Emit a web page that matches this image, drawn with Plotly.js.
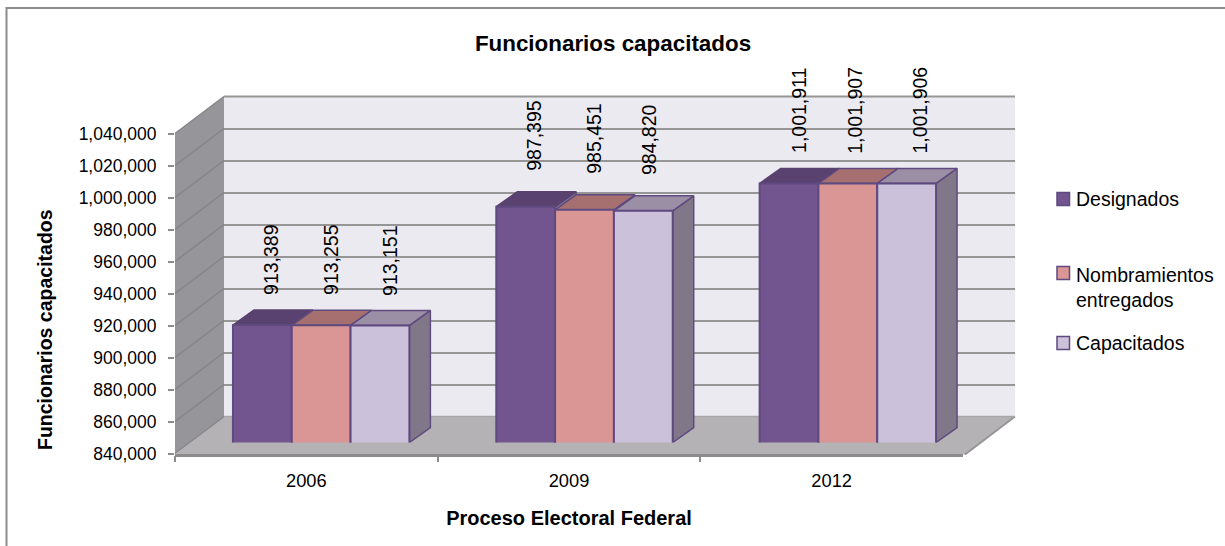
<!DOCTYPE html>
<html><head><meta charset="utf-8">
<script src="https://cdn.plot.ly/plotly-3.0.1.min.js"></script>
<style>html,body{margin:0;padding:0;background:#fff}</style>
</head><body><div id="chart" style="width:1225px;height:546px"></div>
<script>
const categories = ['2006','2009','2012'];
const seriesNames = ['Designados','Nombramientos<br>entregados','Capacitados'];
const designados = [913389,987395,1001911];
const nombramientos = [913255,985451,1001907];
const capacitados = [913151,984820,1001906];
const yTicks = [840000,860000,880000,900000,920000,940000,960000,980000,1000000,1020000,1040000];
const frontColors = ['#72558F','#D99694','#CCC1DA'];
const topColors = ['#5A4270','#A5706F','#9B8FA6'];
const sideColor = '#807888';
const edge = '#5F4A80';

const W=1225,H=546;
const F={x0:175,x1:963,y0:453.5,y1:133.5};      // front plane
const wallOff={x:49,y:-37};                     // back wall relative to the front plane
const barOff={x:14.5,y:-11};                    // bar plane relative to the front plane
const barStretch=2;
const depth={x:21,y:-15};                       // bar depth
const labelLift=[28,33.5,28];                   // label gap above the bar, per category
const labelNudge=[[8,10,10],[7.5,9.5,5],[10,7,13]];
const yMin=yTicks[0], yMax=yTicks[yTicks.length-1];
const xRange=[-0.5,2.5], yRange=[yMin,yMax];
function xDom(o,s){return [(F.x0+o)/W,(F.x1+o+(s||0))/W];}
function yDom(o){return [1-(F.y0+o)/H,1-(F.y1+o)/H];}
const catPx=(F.x1+barStretch-F.x0)/3, valPx=(F.y0-F.y1)/(yMax-yMin);
const bargap=0.33, bw=(1-bargap)/3;
const DX=depth.x/catPx, DY=-depth.y/valPx;

const all=[designados,nombramientos,capacitados];
const traces=[];
// faces behind the bar fronts (sub-plot 2)
categories.forEach((c,ci)=>{
  all.forEach((vals,si)=>{
    const v=vals[ci], l=ci+(si-1.5)*bw, r=l+bw;
    traces.push({type:'scatter',mode:'lines',xaxis:'x2',yaxis:'y2',cliponaxis:false,fill:'toself',
      fillcolor:sideColor,line:{color:edge,width:1.5},hoverinfo:'skip',showlegend:false,
      x:[r,r+DX,r+DX,r,r],y:[yMin,yMin+DY,v+DY,v,yMin]});
    traces.push({type:'scatter',mode:'lines',xaxis:'x2',yaxis:'y2',cliponaxis:false,fill:'toself',
      fillcolor:topColors[si],line:{color:si==0?topColors[0]:edge,width:1.5},hoverinfo:'skip',showlegend:false,
      x:[l,l+DX,r+DX,r,l],y:[v,v+DY,v+DY,v,v]});
  });
});
// bar fronts (sub-plot 3)
all.forEach((vals,si)=>traces.push({type:'bar',name:seriesNames[si].replace('<br>',' '),x:[0,1,2],y:vals,xaxis:'x3',yaxis:'y3',
  marker:{color:frontColors[si],line:{color:edge,width:2}},showlegend:false}));
// carries the wall grid (sub-plot 1) and front axes (sub-plot 4)
traces.push({type:'scatter',mode:'lines',x:[0],y:[yMin],xaxis:'x',yaxis:'y',hoverinfo:'skip',showlegend:false});
traces.push({type:'scatter',mode:'lines',x:categories,y:[yMin,yMin,yMin],xaxis:'x4',yaxis:'y4',hoverinfo:'skip',showlegend:false,line:{width:0}});

const px=x=>x/W, py=y=>1-y/H;
const poly=pts=>'M'+pts.map(p=>px(p[0]).toFixed(5)+','+py(p[1]).toFixed(5)).join('L')+'Z';
const wx0=F.x0+wallOff.x, wx1=1015, wy0=F.y0+wallOff.y, wy1=F.y1+wallOff.y;
const shapes=[
 {type:'rect',xref:'paper',yref:'paper',x0:px(6.5),x1:px(1240),y0:py(8),y1:py(570),line:{color:'#8c8c8c',width:2},layer:'below'},
 {type:'rect',xref:'paper',yref:'paper',x0:px(wx0),x1:px(wx1),y0:py(wy0),y1:py(wy1),fillcolor:'#ECEAF1',line:{width:0},layer:'below'},
 {type:'path',xref:'paper',yref:'paper',path:poly([[F.x0,F.y1],[wx0,wy1],[wx0,wy0],[F.x0,F.y0]]),fillcolor:'#969599',line:{width:0},layer:'below'},
 {type:'path',xref:'paper',yref:'paper',path:poly([[F.x0,F.y0+1],[wx0,wy0],[wx1,wy0],[F.x1+2,F.y0+1]]),fillcolor:'#B5B2B5',line:{width:0},layer:'below'},
];
yTicks.forEach(t=>{
  const y=F.y0-(t-yMin)*valPx;
  shapes.push({type:'line',xref:'paper',yref:'paper',x0:px(F.x0),y0:py(y),x1:px(wx0),y1:py(y+wallOff.y),line:{color:'#858587',width:1.5},layer:'below'});
});
shapes.push({type:'line',xref:'paper',yref:'paper',x0:px(F.x1+2),y0:py(F.y0+1),x1:px(wx1),y1:py(wy0),line:{color:'#969696',width:2},layer:'below'});
shapes.push({type:'line',xref:'paper',yref:'paper',x0:px(wx0),y0:py(wy0),x1:px(wx1),y1:py(wy0),line:{color:'#A8A6A8',width:1.5},layer:'below'});
shapes.push({type:'line',xref:'paper',yref:'paper',x0:px(wx0),y0:py(wy1),x1:px(wx1),y1:py(wy1),line:{color:'#969696',width:2},layer:'below'});

const FONT='"Liberation Sans", Arial, sans-serif';
const annotations=[];
categories.forEach((c,ci)=>all.forEach((vals,si)=>{
  annotations.push({xref:'x3',yref:'y3',x:ci+(si-1)*bw,y:vals[ci],text:vals[ci].toLocaleString('en-US'),textangle:-90,showarrow:false,
    xanchor:'center',yanchor:'bottom',xshift:labelNudge[ci][si],yshift:labelLift[ci],font:{family:FONT,size:19.5,color:'#000'}});
}));
// y axis title sits off the plot centre in the reference, so it is placed directly
annotations.push({xref:'paper',yref:'paper',x:px(45),y:py(330),xanchor:'center',yanchor:'middle',textangle:-90,showarrow:false,
  text:'<b>Funcionarios capacitados</b>',font:{family:FONT,size:19.5,color:'#000'}});
// legend
const legendY=[199,273,343];
const legendTextY=[199,287,343];
seriesNames.forEach((n,i)=>{
  const y=legendY[i];
  shapes.push({type:'rect',xref:'paper',yref:'paper',x0:px(1057),x1:px(1069.5),y0:py(y-6.5),y1:py(y+6.5),fillcolor:frontColors[i],line:{color:edge,width:1.5}});
  annotations.push({xref:'paper',yref:'paper',x:px(1075),y:py(legendTextY[i]),xanchor:'left',yanchor:'middle',align:'left',showarrow:false,text:n,borderpad:0,
    font:{family:FONT,size:19.5,color:'#000'}});
});

const hidden=(extra)=>Object.assign({showgrid:false,zeroline:false,showticklabels:false,ticks:'',showline:false},extra);
const layout={
 width:W,height:H,margin:{l:0,r:0,t:0,b:0},paper_bgcolor:'#fff',plot_bgcolor:'rgba(0,0,0,0)',
 showlegend:false,barmode:'group',bargap:bargap,bargroupgap:0,
 font:{family:FONT,size:17,color:'#000'},
 title:{text:'<b>Funcionarios capacitados</b>',font:{family:FONT,size:22.4,color:'#000'},x:613/W,xanchor:'center',y:1-43/H,yanchor:'middle'},
 xaxis:hidden({domain:[px(wx0),px(wx1)],range:xRange,anchor:'y'}),
 yaxis:{domain:yDom(wallOff.y),range:yRange,anchor:'x',tickvals:yTicks,showgrid:true,gridcolor:'#969696',gridwidth:2,zeroline:false,showticklabels:false,ticks:''},
 xaxis2:hidden({domain:xDom(barOff.x,barStretch),range:xRange,anchor:'y2'}),
 yaxis2:hidden({domain:yDom(barOff.y),range:yRange,anchor:'x2'}),
 xaxis3:hidden({domain:xDom(barOff.x,barStretch),range:xRange,anchor:'y3'}),
 yaxis3:hidden({domain:yDom(barOff.y),range:yRange,anchor:'x3'}),
 xaxis4:{domain:xDom(0),anchor:'y4',type:'category',range:xRange,tickson:'boundaries',ticks:'outside',ticklen:6,tickwidth:1.5,tickcolor:'#8c8c8c',
   showline:true,linecolor:'#8c8c8c',linewidth:2.5,showgrid:false,zeroline:false,ticklabelstandoff:9,tickfont:{family:FONT,size:18.3,color:'#000'},
   title:{text:'<b>Proceso Electoral Federal</b>',font:{family:FONT,size:20,color:'#000'},standoff:21}},
 yaxis4:{domain:yDom(0),range:yRange,anchor:'x4',tickvals:yTicks,tickformat:',d',ticks:'outside',ticklen:6,tickwidth:1.5,tickcolor:'#8c8c8c',
   showgrid:false,zeroline:false,showline:false,ticklabelstandoff:8,tickfont:{family:FONT,size:17.5,color:'#000'}},
 shapes:shapes,annotations:annotations
};
Plotly.newPlot('chart',traces,layout,{displayModeBar:false,responsive:false});
</script></body></html>
